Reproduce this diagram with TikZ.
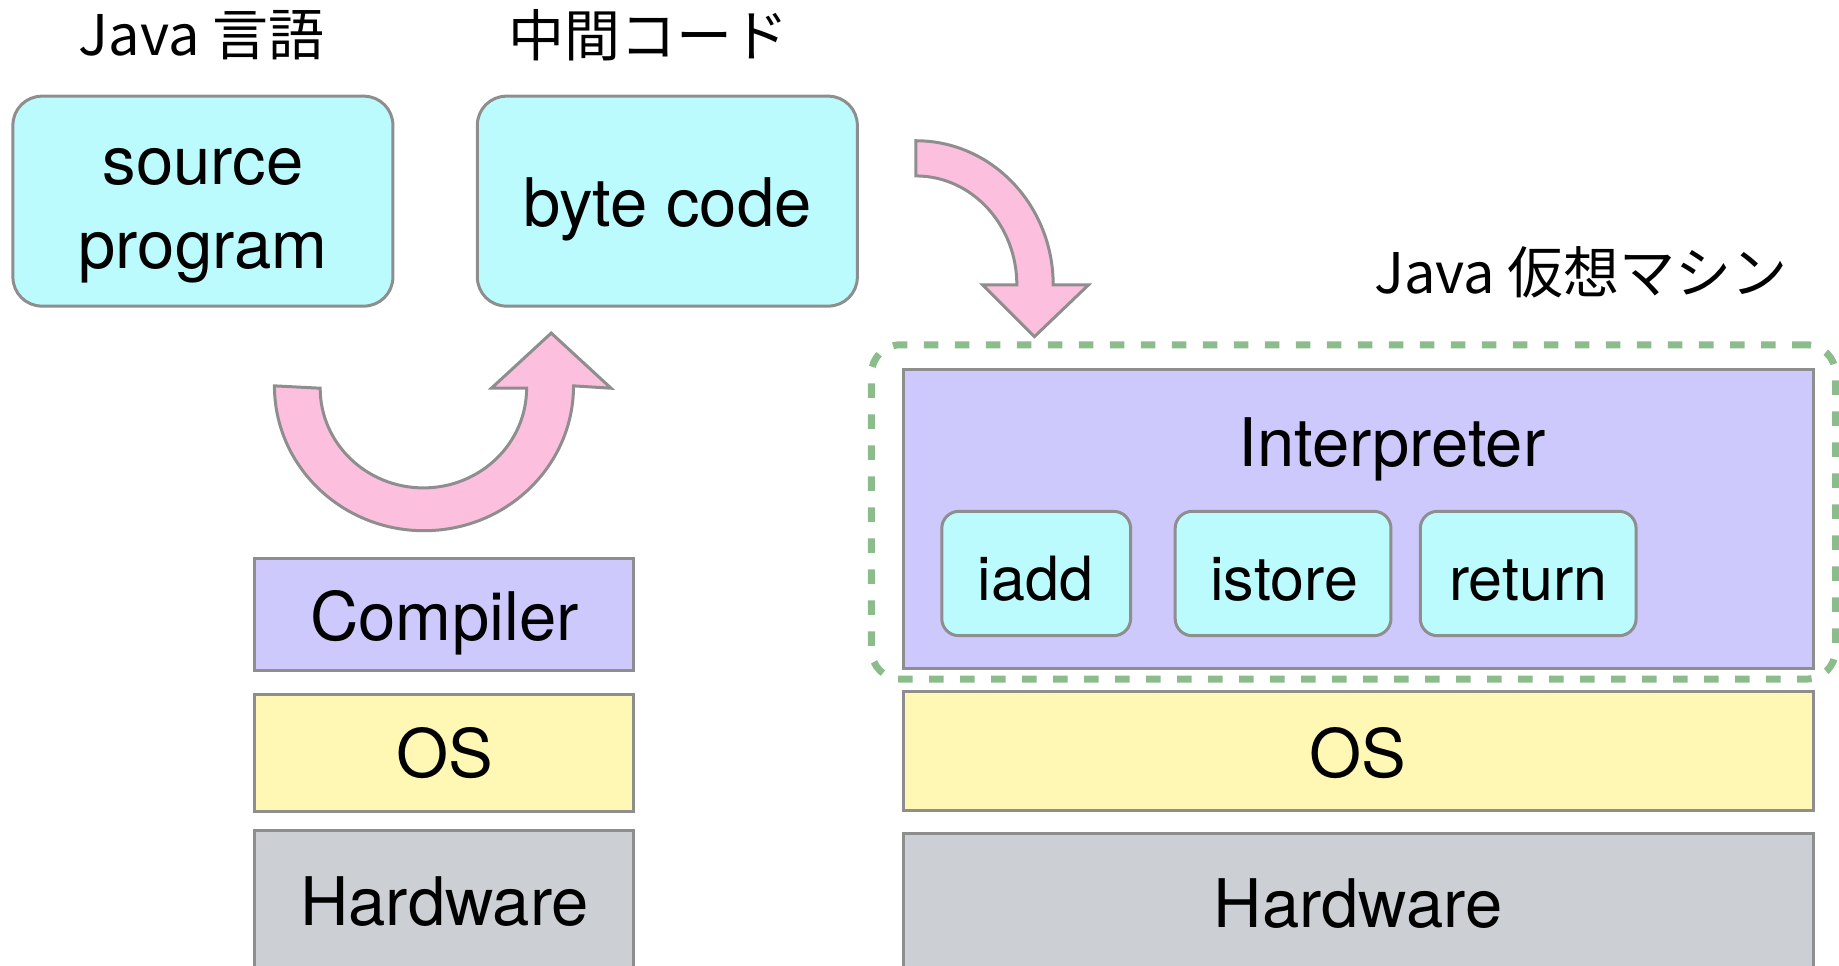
\documentclass[tikz,border=0pt]{standalone}
\usepackage{fontspec}
\setmainfont{TeX Gyre Heros}
\newfontfamily\cjk{Noto Sans CJK JP}
\usetikzlibrary{fit}

\definecolor{edgegray}{RGB}{142,142,142}
\definecolor{boxcyan}{RGB}{188,251,253}
\definecolor{boxlav}{RGB}{205,201,253}
\definecolor{boxyellow}{RGB}{255,248,181}
\definecolor{boxgray}{RGB}{204,208,212}
\definecolor{arrowpink}{RGB}{252,192,222}
\definecolor{vmgreen}{RGB}{140,188,140}

\tikzset{
  layer/.style={draw=edgegray, line width=3pt, inner sep=0pt},
  cyanbox/.style={layer, fill=boxcyan, rounded corners=29pt},
  opbox/.style={layer, fill=boxcyan, rounded corners=17pt},
  lavbox/.style={layer, fill=boxlav},
  yelbox/.style={layer, fill=boxyellow},
  graybox/.style={layer, fill=boxgray},
  vmbox/.style={draw=vmgreen, line width=7pt, rounded corners=29pt,
    dash pattern=on 14.5pt off 16.5pt, inner sep=0pt},
  txt/.style={anchor=base, inner sep=0pt, font=\fontsize{67}{80}\selectfont},
  optxt/.style={anchor=base, inner sep=0pt, font=\fontsize{61}{72}\selectfont},
  heading/.style={font=\cjk\fontsize{56}{66}\selectfont, inner sep=0pt},
  bigarrow/.style={draw=edgegray, line width=3pt, fill=arrowpink, line join=miter},
}

\begin{document}
\begin{tikzpicture}[x=1.1728pt, y=-1.1728pt]
\useasboundingbox (0,0) rectangle (1568,823);

% headings
\node[heading] (javalang) at (172,30) {Java 言語};
\node[heading] (midcode) at (553,30) {中間コード};
\node[heading] (jvmlabel) at (1348,232) {Java 仮想マシン};

% source and byte code
\node[cyanbox, fit={(11,82)(335,261)}] (src) {};
\node[txt] (srcA) at (173,157) {source};
\node[txt] (srcB) at (173,229) {program};
\node[cyanbox, fit={(407,82)(731,261)}] (bc) {};
\node[txt] (bctext) at (569,193) {byte code};

% compiler stack
\node[lavbox, fit={(217,476)(540,572)}] (comp) {};
\node[txt] (comptext) at (379,546) {Compiler};
\node[yelbox, fit={(217,592)(540,692)}] (osl) {};
\node[txt] (osltext) at (379,663) {OS};
\node[graybox, fit={(217,708)(540,828)}] (hwl) {};
\node[txt] (hwltext) at (379,789) {Hardware};

% virtual machine stack
\node[vmbox, fit={(743,294)(1565,579)}] (jvm) {};
\node[lavbox, fit={(770,315)(1546,570)}] (interp) {};
\node[txt] (interptext) at (1187,398) {Interpreter};
\node[opbox, fit={(803,436)(964,542)}] (iadd) {};
\node[optxt] (iaddtext) at (883,512) {iadd};
\node[opbox, fit={(1002,436)(1186,542)}] (istore) {};
\node[optxt] (istoretext) at (1095,512) {istore};
\node[opbox, fit={(1211,436)(1395,542)}] (ret) {};
\node[optxt] (rettext) at (1303,512) {return};
\node[yelbox, fit={(770,590)(1546,691)}] (osr) {};
\node[txt] (osrtext) at (1158,663) {OS};
\node[graybox, fit={(770,711)(1546,829)}] (hwr) {};
\node[txt] (hwrtext) at (1158,791) {Hardware};

% U-turn arrow: compile step
\draw[bigarrow] (234,329)
  arc[start angle=180, end angle=0, x radius=127.5, y radius=123.5]
  -- (521,331) -- (470,284) -- (419,331) -- (449,331)
  arc[start angle=0, end angle=180, x radius=88, y radius=85]
  -- cycle;

% quarter-turn arrow: hand over to the virtual machine
\draw[bigarrow] (781,120)
  arc[start angle=270, end angle=360, x radius=117, y radius=123]
  -- (928,243) -- (882,287) -- (838,243) -- (867,243)
  arc[start angle=0, end angle=-90, x radius=86, y radius=93]
  -- cycle;
\end{tikzpicture}
\end{document}
